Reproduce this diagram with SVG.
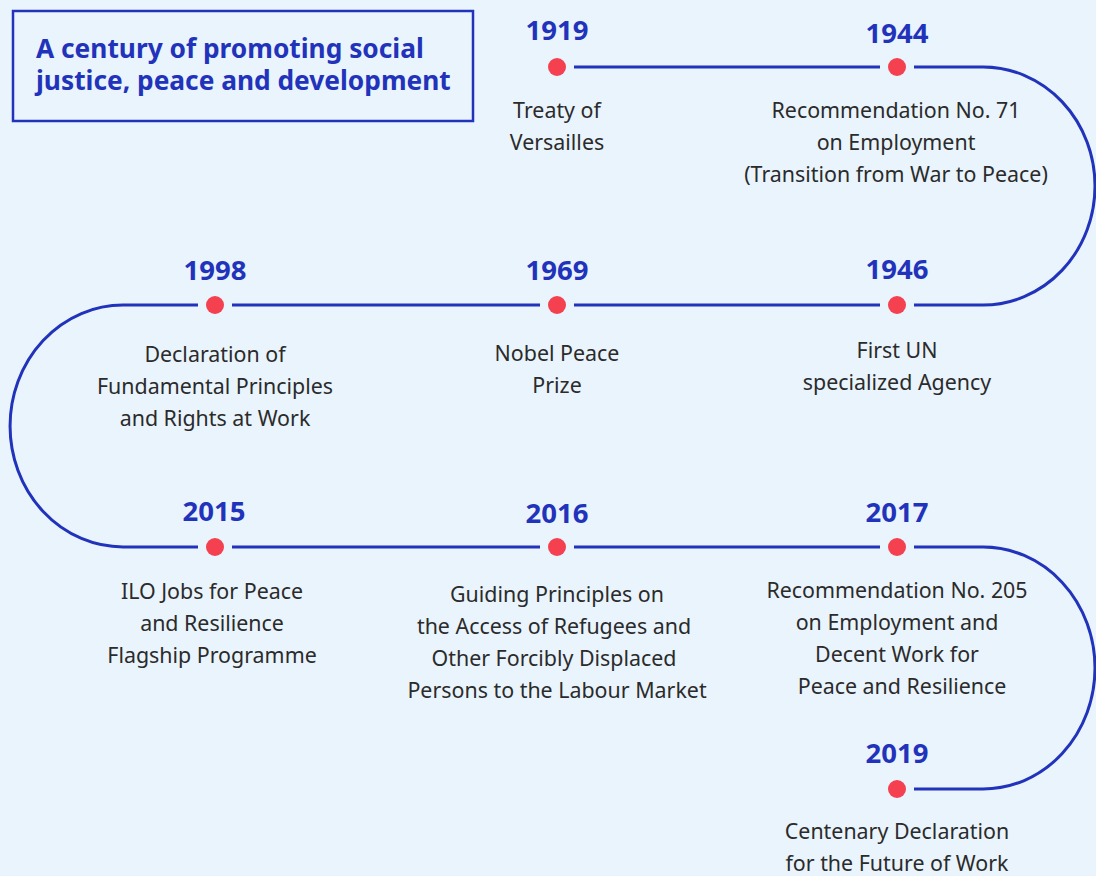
<svg xmlns="http://www.w3.org/2000/svg" width="1096" height="876" viewBox="0 0 1096 876">
<style>
.bg{fill:#EAF4FD}
.title{font-family:"Noto Sans","DejaVu Sans",sans-serif;font-weight:700;font-size:26.3px;fill:#2233BB}
.year{font-family:"Noto Sans","DejaVu Sans",sans-serif;font-weight:700;font-size:27.5px;fill:#2233BB;text-anchor:middle}
.desc{font-family:"Noto Sans","DejaVu Sans",sans-serif;font-size:21.4px;fill:#2B2B2B;text-anchor:middle}
.line{fill:none;stroke:#2233BB;stroke-width:3}
.dot{fill:#F4404F}
</style>
<rect class="bg" x="0" y="0" width="1096" height="876"/>
<g id="title">
<rect x="13" y="11" width="460" height="110" fill="none" stroke="#2233BB" stroke-width="2.5"/>
<text class="title" x="36" y="58">A century of promoting social</text>
<text class="title" x="36" y="90">justice, peace and development</text>
</g>
<g id="connectors">
<path class="line" d="M574,67 H880"/>
<path class="line" d="M914,67 H983 A112,119 0 0 1 983,305 H914"/>
<path class="line" d="M880,305 H574"/>
<path class="line" d="M540,305 H232"/>
<path class="line" d="M198,305 H123 A113,121 0 0 0 123,547 H198"/>
<path class="line" d="M232,547 H540"/>
<path class="line" d="M574,547 H880"/>
<path class="line" d="M914,547 H983 A112,121 0 0 1 983,789 H914"/>
</g>
<g id="n1919">
<circle class="dot" cx="557" cy="67" r="9"/>
<text class="year" x="557" y="40">1919</text>
<text class="desc" x="557" y="118">Treaty of</text>
<text class="desc" x="557" y="150">Versailles</text>
</g>
<g id="n1944">
<circle class="dot" cx="897" cy="67" r="9"/>
<text class="year" x="897" y="43">1944</text>
<text class="desc" x="896" y="118">Recommendation No. 71</text>
<text class="desc" x="896" y="150">on Employment</text>
<text class="desc" x="896" y="182">(Transition from War to Peace)</text>
</g>
<g id="n1946">
<circle class="dot" cx="897" cy="305" r="9"/>
<text class="year" x="897" y="279">1946</text>
<text class="desc" x="897" y="358">First UN</text>
<text class="desc" x="897" y="390">specialized Agency</text>
</g>
<g id="n1969">
<circle class="dot" cx="557" cy="305" r="9"/>
<text class="year" x="557" y="280">1969</text>
<text class="desc" x="557" y="361">Nobel Peace</text>
<text class="desc" x="557" y="393">Prize</text>
</g>
<g id="n1998">
<circle class="dot" cx="215" cy="305" r="9"/>
<text class="year" x="215" y="280">1998</text>
<text class="desc" x="215" y="362">Declaration of</text>
<text class="desc" x="215" y="394">Fundamental Principles</text>
<text class="desc" x="215" y="426">and Rights at Work</text>
</g>
<g id="n2015">
<circle class="dot" cx="215" cy="547" r="9"/>
<text class="year" x="214" y="521">2015</text>
<text class="desc" x="212" y="599">ILO Jobs for Peace</text>
<text class="desc" x="212" y="631">and Resilience</text>
<text class="desc" x="212" y="663">Flagship Programme</text>
</g>
<g id="n2016">
<circle class="dot" cx="557" cy="547" r="9"/>
<text class="year" x="557" y="523">2016</text>
<text class="desc" x="557" y="602">Guiding Principles on</text>
<text class="desc" x="554" y="634">the Access of Refugees and</text>
<text class="desc" x="554" y="666">Other Forcibly Displaced</text>
<text class="desc" x="557" y="698">Persons to the Labour Market</text>
</g>
<g id="n2017">
<circle class="dot" cx="897" cy="547" r="9"/>
<text class="year" x="897" y="522">2017</text>
<text class="desc" x="897" y="598">Recommendation No. 205</text>
<text class="desc" x="897" y="630">on Employment and</text>
<text class="desc" x="897" y="662">Decent Work for</text>
<text class="desc" x="902" y="694">Peace and Resilience</text>
</g>
<g id="n2019">
<circle class="dot" cx="897" cy="789" r="9"/>
<text class="year" x="897" y="763">2019</text>
<text class="desc" x="897" y="839">Centenary Declaration</text>
<text class="desc" x="897" y="871">for the Future of Work</text>
</g>
</svg>
